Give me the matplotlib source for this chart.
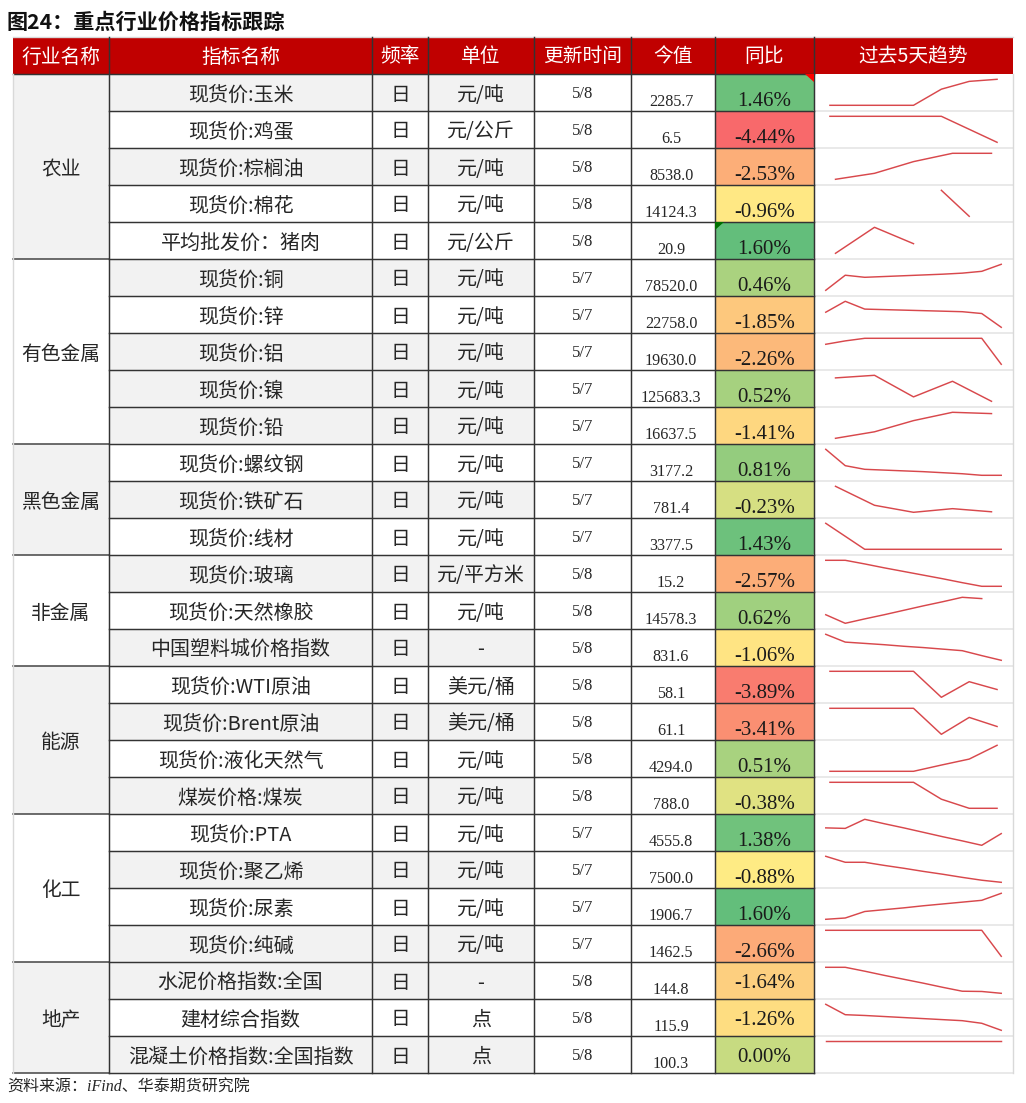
import numpy as np
import matplotlib
matplotlib.use('Agg')
import matplotlib.pyplot as plt
from matplotlib.colors import LinearSegmentedColormap, TwoSlopeNorm
from matplotlib.patches import Rectangle, Polygon

plt.rcParams['font.family'] = ['Noto Sans CJK SC', 'DejaVu Sans']

title = '图24：重点行业价格指标跟踪'
source = '资料来源：iFind、华泰期货研究院'
headers = ['行业名称', '指标名称', '频率', '单位', '更新时间', '今值', '同比', '过去5天趋势']

groups = ['农业', '有色金属', '黑色金属', '非金属', '能源', '化工', '地产']
group_sizes = [5, 5, 3, 3, 4, 4, 3]

names = ['现货价:玉米', '现货价:鸡蛋', '现货价:棕榈油', '现货价:棉花', '平均批发价：猪肉',
         '现货价:铜', '现货价:锌', '现货价:铝', '现货价:镍', '现货价:铅',
         '现货价:螺纹钢', '现货价:铁矿石', '现货价:线材',
         '现货价:玻璃', '现货价:天然橡胶', '中国塑料城价格指数',
         '现货价:WTI原油', '现货价:Brent原油', '现货价:液化天然气', '煤炭价格:煤炭',
         '现货价:PTA', '现货价:聚乙烯', '现货价:尿素', '现货价:纯碱',
         '水泥价格指数:全国', '建材综合指数', '混凝土价格指数:全国指数']
units = ['元/吨', '元/公斤', '元/吨', '元/吨', '元/公斤',
         '元/吨', '元/吨', '元/吨', '元/吨', '元/吨',
         '元/吨', '元/吨', '元/吨',
         '元/平方米', '元/吨', '-',
         '美元/桶', '美元/桶', '元/吨', '元/吨',
         '元/吨', '元/吨', '元/吨', '元/吨',
         '-', '点', '点']
dates = ['5/8'] * 5 + ['5/7'] * 8 + ['5/8'] * 7 + ['5/7'] * 4 + ['5/8'] * 3
latest = ['2285.7', '6.5', '8538.0', '14124.3', '20.9',
          '78520.0', '22758.0', '19630.0', '125683.3', '16637.5',
          '3177.2', '781.4', '3377.5',
          '15.2', '14578.3', '831.6',
          '58.1', '61.1', '4294.0', '788.0',
          '4555.8', '7500.0', '1906.7', '1462.5',
          '144.8', '115.9', '100.3']
yoy = [1.46, -4.44, -2.53, -0.96, 1.60,
       0.46, -1.85, -2.26, 0.52, -1.41,
       0.81, -0.23, 1.43,
       -2.57, 0.62, -1.06,
       -3.89, -3.41, 0.51, -0.38,
       1.38, -0.88, 1.60, -2.66,
       -1.64, -1.26, 0.00]
shaded = [1, 0, 1, 0, 0,
          1, 0, 1, 1, 1,
          0, 1, 0,
          1, 0, 1,
          0, 1, 0, 1,
          0, 1, 0, 1,
          1, 0, 1]

# sparkline heights, 0 = lowest and 1 = highest in the cell
trends = [
    [0, 0, 0, 0, .62, .92, 1],
    [1, 1, 1, 1, 1, .5, 0],
    [0, .23, .68, 1, 1],
    [None, None, None, None, 1, 0, None],
    [0, 1, .37, None, None],
    [0, .58, .5, .53, .56, .59, .62, .66, .73, 1],
    [.58, 1, .7, .68, .66, .64, .62, .6, .53, 0],
    [.77, .9, 1, 1, 1, 1, 1, 1, 1, 0],
    [.9, 1, .17, .77, 0],
    [0, .25, .68, 1, .95],
    [1, .37, .23, .2, .17, .14, .1, .06, 0, 0],
    [1, .27, 0, .14, .02],
    [1, .5, 0, 0, 0, 0, 0, 0, 0, 0],
    [1, 1, .86, .71, .57, .43, .29, .14, 0, 0],
    [.33, 0, .17, .33, .5, .67, .83, 1, .95, None],
    [1, .7, .65, .6, .54, .49, .43, .37, .18, 0],
    [1, 1, 1, 1, 0, .6, .3],
    [1, 1, 1, 1, 0, .65, .3],
    [0, 0, 0, 0, .24, .47, 1],
    [1, 1, 1, 1, .35, 0, 0],
    [.67, .65, 1, .83, .67, .5, .33, .17, 0, .45],
    [1, .77, .77, .65, .54, .42, .31, .19, .08, 0],
    [0, .05, .3, .37, .44, .52, .59, .66, .73, 1],
    [1, 1, 1, 1, 1, 1, 1, 1, 1, 0],
    [1, 1, .85, .69, .54, .39, .23, .08, .07, 0],
    [1, .6, .57, .53, .49, .45, .41, .37, .27, 0],
    [1, 1, 1, 1, 1, 1, 1, 1, 1, 1],
]

W, H = 1026, 1103
col_x = [13, 109, 372, 428, 534, 631, 715, 814, 1013]
top, head_h, row_h = 37, 37, 37
first = top + head_h
n_rows = len(names)
bottom = first + n_rows * row_h

RED = '#C00000'
GREY = '#F2F2F2'
INK = '#262626'
DARK = '#333333'
LIGHT = '#E3E3E3'
SERIF = 'Liberation Serif'

fig = plt.figure(figsize=(W / 100, H / 100), dpi=100)
ax = fig.add_axes([0, 0, 1, 1])
ax.set_xlim(0, W)
ax.set_ylim(H, 0)
ax.axis('off')


def cell(x0, x1, y0, y1, color):
    ax.add_patch(Rectangle((x0, y0), x1 - x0, y1 - y0, fc=color, ec='none', zorder=1))


def centers(i, j):
    return (col_x[i] + col_x[j]) / 2


# excel style three colour scale, midpoint on the median
cmap = LinearSegmentedColormap.from_list('yoy', ['#F8696B', '#FFEB84', '#63BE7B'])
norm = TwoSlopeNorm(vmin=min(yoy), vcenter=float(np.median(yoy)), vmax=max(yoy))

ax.text(7, 22, title, fontsize=15.2, fontweight='bold', color='#111111', ha='left', va='center')
ax.text(7, 1088, source, fontsize=11.5, family=[SERIF, 'Noto Sans CJK SC'], style='italic', color=INK,
        ha='left', va='center')

# header
cell(col_x[0], col_x[-1], top, first, RED)
ax.plot([col_x[0], col_x[-1]], [top, top], color='#D9D9D9', lw=1, zorder=3)
ax.plot([col_x[0], col_x[7]], [first, first], color=DARK, lw=1.05, zorder=3)
for i, h in enumerate(headers):
    ax.text(centers(i, i + 1), first - 17, h, fontsize=14.2, color='white',
            ha='center', va='center', zorder=4)

# group column
y = first
for k, (g, size) in enumerate(zip(groups, group_sizes)):
    y1 = y + size * row_h
    if k % 2 == 0:
        cell(col_x[0], col_x[1], y, y1, GREY)
    ax.text(centers(0, 1), (y + y1) / 2 + 3, g, fontsize=14.2, color=INK, ha='center', va='center', zorder=4)
    ax.plot([col_x[0], col_x[1]], [y1, y1], color='#444444', lw=1.1, zorder=3)
    y = y1

# rows
for i in range(n_rows):
    y0 = first + i * row_h
    y1 = y0 + row_h
    if shaded[i]:
        cell(col_x[1], col_x[4], y0, y1, GREY)
    cell(col_x[6], col_x[7], y0, y1, cmap(norm(yoy[i])))

    mid = y0 + 21
    ax.text(centers(1, 2), mid, names[i], fontsize=14.4, color=INK, ha='center', va='center', zorder=4)
    ax.text(centers(2, 3), mid, '日', fontsize=14.2, color=INK, ha='center', va='center', zorder=4)
    ax.text(centers(3, 4), mid, units[i], fontsize=14.4, color=INK, ha='center', va='center', zorder=4)
    ax.text(centers(4, 5), y0 + 20, dates[i], fontsize=12, family=SERIF, color=INK,
            ha='center', va='center', zorder=4)
    ax.text(centers(5, 6) - 2, y0 + 32, latest[i], fontsize=11.6, family=SERIF, color=INK,
            ha='center', va='baseline', zorder=4)
    # last block of the column sits higher in its cells
    base = y0 + 26 if i >= 24 else y0 + 32
    ax.text(centers(6, 7), base, f'{yoy[i]:.2f}%', fontsize=15, family=SERIF, color='#1A1A1A',
            ha='center', va='baseline', zorder=4)

    ax.plot([col_x[1], col_x[7]], [y1, y1], color=DARK, lw=1.05, zorder=3)
    ax.plot([col_x[7], col_x[8]], [y1, y1], color=LIGHT, lw=1.1, zorder=2)

    # sparkline in its own small axes
    values = np.array([np.nan if v is None else v for v in trends[i]], dtype=float)
    spark = fig.add_axes([(col_x[7] + 2) / W, 1 - (y0 + 31.3) / H, (col_x[8] - col_x[7] - 4) / W, 26 / H])
    spark.set_xlim(-0.5, len(values) - 0.5)
    spark.set_ylim(0, 1)
    spark.axis('off')
    spark.plot(np.arange(len(values)), values, color='#D8484C', lw=1.05, clip_on=False)

# grid verticals
for x in col_x[1:8]:
    ax.plot([x, x], [top, bottom], color=DARK, lw=1.05, zorder=3)
ax.plot([col_x[0], col_x[0]], [first, bottom], color='#D9D9D9', lw=1, zorder=3)
ax.plot([col_x[8], col_x[8]], [first, bottom], color='#D9D9D9', lw=1, zorder=3)

# comment markers in the two corners
ax.add_patch(Polygon([[805, first], [col_x[7], first], [col_x[7], first + 8]], fc='#FF0000', ec='none', zorder=5))
corner_y = first + 4 * row_h
ax.add_patch(Polygon([[col_x[6], corner_y], [col_x[6] + 9, corner_y], [col_x[6], corner_y + 8]],
                     fc='#007000', ec='none', zorder=5))

fig.savefig('out.png', dpi=100)
